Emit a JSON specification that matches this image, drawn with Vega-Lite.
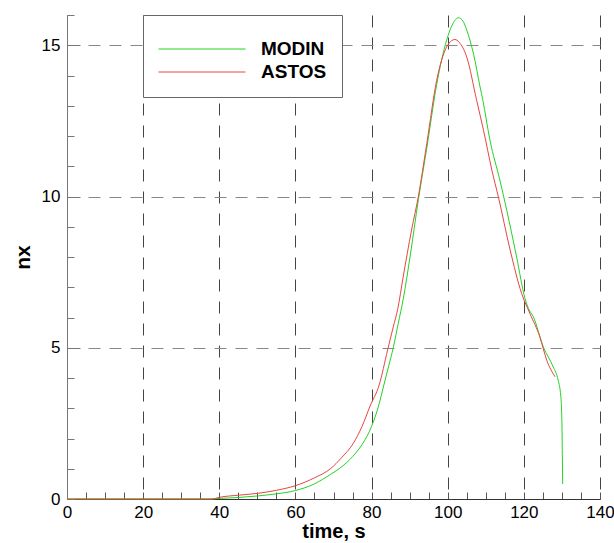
{
  "$schema": "https://vega.github.io/schema/vega-lite/v6.json",
  "width": 533,
  "height": 484,
  "autosize": {"type": "none"},
  "padding": {"left": 67, "top": 15, "right": 14, "bottom": 44},
  "background": "white",
  "config": {
    "view": {"stroke": null},
    "font": "Liberation Sans",
    "axis": {"labelFont": "Liberation Sans", "titleFont": "Liberation Sans", "labelColor": "black", "titleColor": "black"}
  },
  "data": {
    "values": [
      {"t": 0, "nx": 0, "s": "MODIN"},
      {"t": 20, "nx": 0, "s": "MODIN"},
      {"t": 38, "nx": 0, "s": "MODIN"},
      {"t": 40, "nx": 0.02, "s": "MODIN"},
      {"t": 45, "nx": 0.05, "s": "MODIN"},
      {"t": 50, "nx": 0.1, "s": "MODIN"},
      {"t": 55, "nx": 0.17, "s": "MODIN"},
      {"t": 60, "nx": 0.28, "s": "MODIN"},
      {"t": 65, "nx": 0.5, "s": "MODIN"},
      {"t": 69.3, "nx": 0.82, "s": "MODIN"},
      {"t": 72, "nx": 1.05, "s": "MODIN"},
      {"t": 75, "nx": 1.4, "s": "MODIN"},
      {"t": 77.5, "nx": 1.8, "s": "MODIN"},
      {"t": 80, "nx": 2.4, "s": "MODIN"},
      {"t": 82, "nx": 3.15, "s": "MODIN"},
      {"t": 83.1, "nx": 3.7, "s": "MODIN"},
      {"t": 84.5, "nx": 4.4, "s": "MODIN"},
      {"t": 85.7, "nx": 5.0, "s": "MODIN"},
      {"t": 87, "nx": 5.8, "s": "MODIN"},
      {"t": 88.3, "nx": 6.6, "s": "MODIN"},
      {"t": 90.1, "nx": 8.0, "s": "MODIN"},
      {"t": 92.3, "nx": 9.9, "s": "MODIN"},
      {"t": 94.5, "nx": 11.6, "s": "MODIN"},
      {"t": 97.1, "nx": 13.7, "s": "MODIN"},
      {"t": 99.7, "nx": 15.16, "s": "MODIN"},
      {"t": 101.3, "nx": 15.7, "s": "MODIN"},
      {"t": 102.8, "nx": 15.91, "s": "MODIN"},
      {"t": 104, "nx": 15.8, "s": "MODIN"},
      {"t": 105, "nx": 15.5, "s": "MODIN"},
      {"t": 106.8, "nx": 14.7, "s": "MODIN"},
      {"t": 108.5, "nx": 13.62, "s": "MODIN"},
      {"t": 109.2, "nx": 13.2, "s": "MODIN"},
      {"t": 111.1, "nx": 11.86, "s": "MODIN"},
      {"t": 113.7, "nx": 10.54, "s": "MODIN"},
      {"t": 115.5, "nx": 9.55, "s": "MODIN"},
      {"t": 118.1, "nx": 8.0, "s": "MODIN"},
      {"t": 120.3, "nx": 6.63, "s": "MODIN"},
      {"t": 121.2, "nx": 6.3, "s": "MODIN"},
      {"t": 122.5, "nx": 6.02, "s": "MODIN"},
      {"t": 125.1, "nx": 5.03, "s": "MODIN"},
      {"t": 127.7, "nx": 4.37, "s": "MODIN"},
      {"t": 129, "nx": 3.93, "s": "MODIN"},
      {"t": 129.7, "nx": 3.4, "s": "MODIN"},
      {"t": 130, "nx": 2.5, "s": "MODIN"},
      {"t": 130.1, "nx": 1.5, "s": "MODIN"},
      {"t": 130.2, "nx": 0.5, "s": "MODIN"},
      {"t": 0, "nx": 0, "s": "ASTOS"},
      {"t": 38, "nx": 0, "s": "ASTOS"},
      {"t": 40.2, "nx": 0.06, "s": "ASTOS"},
      {"t": 45.4, "nx": 0.13, "s": "ASTOS"},
      {"t": 50.3, "nx": 0.19, "s": "ASTOS"},
      {"t": 55.1, "nx": 0.29, "s": "ASTOS"},
      {"t": 60, "nx": 0.44, "s": "ASTOS"},
      {"t": 65, "nx": 0.7, "s": "ASTOS"},
      {"t": 69.3, "nx": 1.01, "s": "ASTOS"},
      {"t": 72, "nx": 1.35, "s": "ASTOS"},
      {"t": 75.2, "nx": 1.84, "s": "ASTOS"},
      {"t": 77.5, "nx": 2.4, "s": "ASTOS"},
      {"t": 79.6, "nx": 3.07, "s": "ASTOS"},
      {"t": 82, "nx": 3.77, "s": "ASTOS"},
      {"t": 84.2, "nx": 4.92, "s": "ASTOS"},
      {"t": 85.7, "nx": 5.69, "s": "ASTOS"},
      {"t": 86.9, "nx": 6.3, "s": "ASTOS"},
      {"t": 88.3, "nx": 7.34, "s": "ASTOS"},
      {"t": 90.5, "nx": 8.89, "s": "ASTOS"},
      {"t": 92.3, "nx": 10.01, "s": "ASTOS"},
      {"t": 94.5, "nx": 11.75, "s": "ASTOS"},
      {"t": 97.1, "nx": 13.84, "s": "ASTOS"},
      {"t": 99.7, "nx": 14.94, "s": "ASTOS"},
      {"t": 101, "nx": 15.15, "s": "ASTOS"},
      {"t": 101.9, "nx": 15.19, "s": "ASTOS"},
      {"t": 103, "nx": 15.1, "s": "ASTOS"},
      {"t": 105, "nx": 14.61, "s": "ASTOS"},
      {"t": 107.6, "nx": 13.18, "s": "ASTOS"},
      {"t": 109.4, "nx": 12.19, "s": "ASTOS"},
      {"t": 111.6, "nx": 10.87, "s": "ASTOS"},
      {"t": 113.3, "nx": 9.99, "s": "ASTOS"},
      {"t": 116.4, "nx": 8.23, "s": "ASTOS"},
      {"t": 119.4, "nx": 6.8, "s": "ASTOS"},
      {"t": 121.6, "nx": 6.13, "s": "ASTOS"},
      {"t": 124.2, "nx": 5.36, "s": "ASTOS"},
      {"t": 126, "nx": 4.59, "s": "ASTOS"},
      {"t": 128.2, "nx": 4.04, "s": "ASTOS"}
    ]
  },
  "resolve": {"axis": {"x": "independent", "y": "independent"}},
  "layer": [
    {
      "mark": {"type": "line", "strokeWidth": 1, "opacity": 0},
      "encoding": {
        "x": {"field": "t", "type": "quantitative", "scale": {"domain": [0, 140], "nice": false},
          "axis": {"values": [0,5,10,15,20,25,30,35,40,45,50,55,60,65,70,75,80,85,90,95,100,105,110,115,120,125,130,135,140], "labels": false, "grid": false, "domain": false, "title": null, "ticks": true, "tickSize": -7, "tickColor": "#555", "orient": "bottom"}},
        "y": {"field": "nx", "type": "quantitative", "scale": {"domain": [0, 16], "nice": false},
          "axis": {"values": [0,1,2,3,4,5,6,7,8,9,10,11,12,13,14,15,16], "labels": false, "grid": false, "domain": false, "title": null, "ticks": true, "tickSize": -7, "tickColor": "#777", "orient": "left"}},
        "detail": {"field": "s"}
      }
    },
    {
      "mark": {"type": "line", "strokeWidth": 1, "opacity": 0},
      "encoding": {
        "x": {"field": "t", "type": "quantitative", "scale": {"domain": [0, 140], "nice": false},
          "axis": null},
        "y": {"field": "nx", "type": "quantitative", "scale": {"domain": [0, 16], "nice": false},
          "axis": {"values": [5, 10, 15], "labels": false, "grid": false, "domain": false, "title": null, "ticks": true, "tickSize": -13, "tickColor": "#777", "orient": "left"}},
        "detail": {"field": "s"}
      }
    },
    {
      "mark": {"type": "line", "strokeWidth": 1, "interpolate": "monotone"},
      "encoding": {
        "x": {"field": "t", "type": "quantitative", "scale": {"domain": [0, 140], "nice": false},
          "axis": {"values": [0,20,40,60,80,100,120,140], "title": "time, s", "titleFontSize": 20, "titleFontWeight": "bold", "titlePadding": 1,
            "labelFontSize": 17, "labelPadding": 5, "ticks": false, "grid": true, "gridColor": "#444", "gridDash": [12, 10], "gridWidth": 1,
            "domain": true, "domainColor": "#333", "labelFlush": false, "orient": "bottom"}},
        "y": {"field": "nx", "type": "quantitative", "scale": {"domain": [0, 16], "nice": false},
          "axis": {"values": [0, 5, 10, 15], "title": "nx", "titleFontSize": 21, "titleFontWeight": "bold", "titlePadding": 8,
            "labelFontSize": 17, "labelPadding": 7, "ticks": false, "grid": true, "gridColor": "#888", "gridDash": [12, 9], "gridWidth": 1,
            "domain": true, "domainColor": "#777", "orient": "left"}},
        "color": {"field": "s", "type": "nominal", "sort": ["MODIN", "ASTOS"],
          "scale": {"domain": ["MODIN", "ASTOS"], "range": ["#22d322", "#e84444"]},
          "legend": {"orient": "none", "legendX": 76, "legendY": 0, "title": " ", "titleFontSize": 7, "titlePadding": 2,
            "fillColor": "white", "strokeColor": "#666", "padding": 15, "cornerRadius": 0,
            "symbolType": "stroke", "symbolSize": 7569, "symbolStrokeWidth": 1, "clipHeight": 20, "rowPadding": 3,
            "labelFont": "Liberation Sans", "labelFontSize": 19, "labelFontWeight": "bold", "labelColor": "black", "labelOffset": 15, "labelLimit": 200}}
      }
    }
  ]
}
